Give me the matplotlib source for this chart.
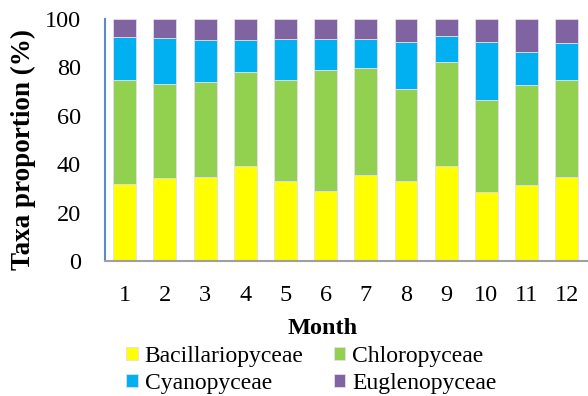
import numpy as np
import matplotlib
matplotlib.use("Agg")
import matplotlib.pyplot as plt

plt.rcParams['font.family'] = ['Liberation Serif', 'DejaVu Serif']

# Monthly taxa composition (%)
months = ["1", "2", "3", "4", "5", "6", "7", "8", "9", "10", "11", "12"]
bacillario = [32.0, 34.4, 34.7, 39.1, 33.1, 29.0, 35.7, 33.1, 39.1, 28.3, 31.6, 34.8]
chloro = [42.9, 38.6, 39.1, 39.2, 41.8, 50.1, 44.2, 38.1, 43.0, 38.4, 41.1, 40.1]
cyano = [17.7, 19.1, 17.4, 12.9, 16.9, 12.6, 12.0, 19.2, 10.7, 23.7, 13.6, 15.2]
eugleno = [7.4, 7.9, 8.8, 8.8, 8.2, 8.3, 8.1, 9.6, 7.2, 9.6, 13.7, 9.9]

names = ["Bacillariopyceae", "Chloropyceae", "Cyanopyceae", "Euglenopyceae"]
colores = ["#FFFF00", "#92D050", "#00B0F0", "#8064A2"]

fig = plt.figure(figsize=(5.88, 3.96), dpi=100)
ax = fig.add_axes([0.178, 0.341, 0.82, 0.611])

x = np.arange(len(months))
bottom = np.zeros(len(months))
barras = []
for serie, nombre, color in zip([bacillario, chloro, cyano, eugleno], names, colores):
    b = ax.bar(x, serie, width=0.57, bottom=bottom, color=color, label=nombre,
               edgecolor="#E6DDF0", linewidth=0.6)
    barras.append(b)
    bottom += np.array(serie)

ax.set_xlim(-0.5, len(months) - 0.5)
ax.set_ylim(0, 100)
ax.set_yticks([0, 20, 40, 60, 80, 100])
ax.set_xticks(x)
ax.set_xticklabels(months)
ax.tick_params(axis='y', length=0, pad=17, labelsize=17.5)
ax.tick_params(axis='x', length=0, pad=17, labelsize=17.5)

for lado in ['top', 'right']:
    ax.spines[lado].set_visible(False)
ax.spines['left'].set_color('#5B8BC9')
ax.spines['left'].set_linewidth(1.5)
ax.spines['bottom'].set_color('#A0A0A0')
ax.spines['bottom'].set_linewidth(1.5)

ax.set_ylabel('Taxa proportion (%)', fontsize=19.5, fontweight='bold')
ax.yaxis.set_label_coords(-0.143, 0.46)
ax.set_xlabel('Month', fontsize=17.5, fontweight='bold')
ax.xaxis.set_label_coords(0.453, -0.235)

# leyenda en filas: Bacillario/Chloro arriba, Cyano/Eugleno abajo
orden = [0, 2, 1, 3]
fig.legend([barras[i] for i in orden], [names[i] for i in orden],
           loc='lower center', bbox_to_anchor=(0.53, -0.025), ncol=2,
           frameon=False, fontsize=17, handlelength=0.47, handleheight=0.47,
           handletextpad=0.3, columnspacing=1.3, labelspacing=0.25,
           borderaxespad=0.1)

fig.savefig('out.png', dpi=100)
